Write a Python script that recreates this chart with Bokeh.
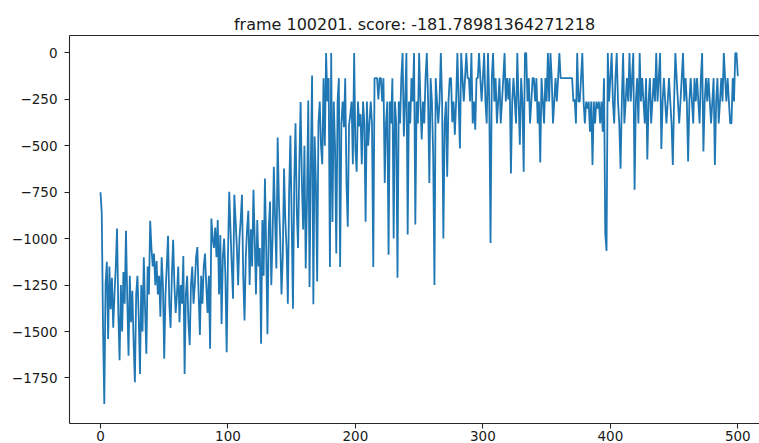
from bokeh.plotting import figure
from bokeh.models import Range1d, LinearAxis, FixedTicker
from bokeh.embed import file_html
from bokeh.resources import INLINE

title_text = "frame 100201. score: -181.78981364271218"

scores = [
    # 0-9
    -750, -860, -1480, -1890, -1240, -1125, -1540, -1150, -1380, -1210,
    # 10-19
    -1480, -1300, -1150, -945, -1400, -1655, -1250, -1500, -1180, -1350,
    # 20-29
    -958, -1320, -1630, -1200, -1450, -1280, -1560, -1773, -1300, -1200,
    # 30-39
    -1420, -1728, -1250, -1500, -1100, -1380, -1620, -1150, -1300, -904,
    # 40-49
    -1050, -1150, -1080, -1250, -1120, -1300, -1200, -1420, -1100, -1250,
    # 50-59
    -1647, -1300, -1150, -985, -1350, -1480, -1200, -1006, -1250, -1400,
    # 60-69
    -1300, -1150, -1450, -1250, -1350, -1093, -1728, -1300, -1200, -1450,
    # 70-79
    -1573, -1250, -1150, -1350, -1250, -1100, -1045, -1300, -1519, -1200,
    # 80-89
    -1350, -1150, -1080, -1250, -1400, -1200, -1593, -892, -1000, -1050,
    # 90-99
    -940, -1100, -900, -1300, -980, -1459, -1100, -1000, -1200, -1611,
    # 100-109
    -1100, -747, -950, -1150, -1323, -764, -900, -1050, -1250, -1000,
    # 110-119
    -900, -764, -1200, -1440, -1100, -950, -850, -1250, -950, -1150,
    # 120-129
    -737, -1000, -1300, -900, -1150, -1050, -1566, -900, -1200, -676,
    # 130-139
    -1050, -1515, -950, -800, -1250, -1000, -613, -900, -1161, -456,
    # 140-149
    -800, -1000, -1300, -1100, -622, -900, -1050, -1350, -750, -445,
    # 150-159
    -900, -1377, -700, -379, -850, -1050, -600, -265, -700, -950,
    # 160-169
    -500, -1161, -800, -257, -1260, -600, -122, -1353, -450, -700,
    # 170-179
    -1230, -380, -262, -500, -600, -136, -500, -1, -262, -136,
    # 180-189
    -1152, -1, -910, -262, -500, -1080, -262, -136, -1152, -380,
    # 190-199
    -262, -400, -136, -700, -936, -390, -330, -262, -600, -1,
    # 200-209
    -520, -640, -262, -396, -330, -600, -262, -380, -909, -262,
    # 210-219
    -500, -380, -262, -380, -1152, -136, -136, -136, -250, -136,
    # 220-229
    -136, -262, -136, -700, -380, -262, -1087, -262, -380, -136,
    # 230-239
    -999, -262, -380, -1211, -262, -380, -136, -1, -450, -262,
    # 240-249
    -1, -978, -262, -380, -136, -262, -1, -924, -262, -380,
    # 250-259
    -1, -262, -466, -262, -380, -136, -1, -250, -700, -136,
    # 260-269
    -262, -550, -1250, -136, -262, -380, -262, -1, -262, -999,
    # 270-279
    -380, -262, -666, -262, -136, -136, -373, -262, -440, -262,
    # 280-289
    -1, -262, -514, -1, -136, -262, -136, -1, -136, -136,
    # 290-299
    -262, -1, -380, -262, -414, -136, -136, -1, -136, -262,
    # 300-309
    -136, -1, -262, -380, -1, -262, -1023, -136, -1, -262,
    # 310-319
    -136, -380, -262, -136, -380, -262, -136, -1, -262, -136,
    # 320-329
    -250, -136, -649, -262, -136, -262, -380, -1, -262, -494,
    # 330-339
    -136, -262, -640, -1, -1, -262, -136, -380, -262, -136,
    # 340-349
    -136, -262, -136, -380, -262, -590, -136, -262, -380, -136,
    # 350-359
    -262, -1, -262, -1, -136, -380, -262, -136, -262, -136,
    # 360-369
    -1, -136, -136, -136, -136, -136, -136, -136, -136, -136,
    # 370-379
    -136, -262, -250, -380, -1, -262, -262, -136, -1, -262,
    # 380-389
    -380, -262, -300, -262, -424, -262, -603, -262, -380, -262,
    # 390-399
    -300, -262, -380, -262, -424, -136, -972, -1066, -1, -262,
    # 400-409
    -136, -1, -262, -380, -136, -1, -262, -380, -624, -262,
    # 410-419
    -1, -380, -262, -136, -262, -1, -262, -136, -1, -737,
    # 420-429
    -262, -136, -380, -1, -262, -136, -262, -380, -136, -574,
    # 430-439
    -262, -136, -380, -262, -136, -262, -1, -262, -136, -1,
    # 440-449
    -517, -262, -136, -262, -380, -262, -136, -262, -380, -603,
    # 450-459
    -262, -1, -136, -262, -380, -262, -136, -1, -262, -136,
    # 460-469
    -262, -585, -262, -136, -262, -380, -136, -262, -136, -262,
    # 470-479
    -380, -136, -1, -531, -262, -136, -262, -136, -262, -380,
    # 480-489
    -262, -136, -603, -262, -136, -380, -262, -136, -262, -1,
    # 490-499
    -136, -262, -136, -262, -380, -378, -136, -262, -1, -2,
    # 500
    -125,
]
episodes = list(range(len(scores)))

x_ticks = [0, 100, 200, 300, 400, 500]
x_tick_labels = ["0", "100", "200", "300", "400", "500"]
y_ticks = [-1750, -1500, -1250, -1000, -750, -500, -250, 0]
y_tick_labels = ["\u22121750", "\u22121500", "\u22121250", "\u22121000",
                 "\u2212750", "\u2212500", "\u2212250", "0"]

FONT = "DejaVu Sans"
AX = "#262626"

p = figure(width=759, height=443, output_backend="svg", toolbar_location=None,
           x_range=Range1d(-24.3, 517), y_range=Range1d(-1995, 93.6),
           min_border_left=69, min_border_right=0, min_border_top=35,
           min_border_bottom=0, title=title_text)
p.title.align = "center"
p.title.text_font = FONT
p.title.text_font_size = "16px"
p.title.text_font_style = "normal"
p.title.text_color = "#1a1a1a"
p.title.standoff = 4
p.outline_line_color = None
p.grid.visible = False
p.background_fill_color = "white"
p.border_fill_color = "white"

p.line(episodes, scores, line_color="#1f77b4", line_width=1.8)

for ax, ticks, labels in ((p.xaxis[0], x_ticks, x_tick_labels), (p.yaxis[0], y_ticks, y_tick_labels)):
    ax.ticker = FixedTicker(ticks=ticks)
    ax.major_label_overrides = {t: l for t, l in zip(ticks, labels)}
    ax.minor_tick_line_color = None
    ax.major_tick_in = 0
    ax.major_tick_out = 5
    ax.axis_line_color = AX
    ax.axis_line_width = 1.1
    ax.major_tick_line_color = AX
    ax.major_tick_line_width = 1.1
    ax.major_label_text_font = FONT
    ax.major_label_text_font_size = "13.5px"
    ax.major_label_text_color = "#1a1a1a"
p.yaxis[0].major_label_standoff = 7
p.xaxis[0].major_label_standoff = 2

top = LinearAxis(ticker=FixedTicker(ticks=[]), axis_line_color=AX, axis_line_width=1.1,
                 major_tick_line_color=None, minor_tick_line_color=None,
                 major_tick_out=0, major_tick_in=0, major_label_text_font_size="0px")
p.add_layout(top, "above")

assert len(scores) == 501
open("out.html", "w").write(file_html(p, INLINE))
